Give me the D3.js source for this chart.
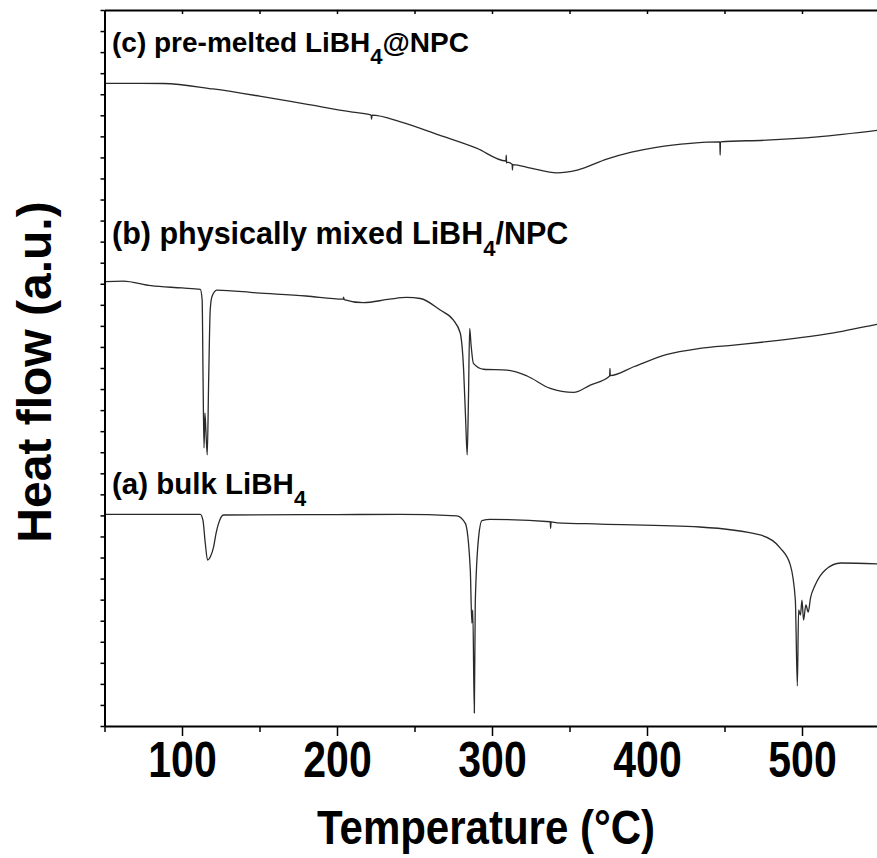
<!DOCTYPE html>
<html>
<head>
<meta charset="utf-8">
<script src="https://cdn.jsdelivr.net/npm/d3@7"></script>
<style>
  body { margin: 0; background: #fff; }
  svg { display: block; }
</style>
</head>
<body>
<div id="chart"></div>
<script>
// temperature axis ticks
var majorTicks = [100, 200, 300, 400, 500]
var minorTicks = [50, 150, 250, 350, 450, 550]

// (a) bulk LiBH4
var tempA = [50, 111.8, 113.5, 115, 116.5, 118.5, 120.4, 122, 123.6, 126.8, 200, 240.8, 277.2, 282.8, 286, 287, 287.6, 288.6, 289.2, 291.4, 293.5, 298.9, 337.6, 337.8, 338.1, 342, 369.9, 434, 473, 486, 492.5, 495.7, 497, 497.8, 499, 500, 501, 502.5, 504, 505.5, 508.5, 515, 525, 550]
var flowA = [10.05, 10.05, 9.78, 8.69, 7.88, 8.07, 8.51, 9.16, 9.62, 10.02, 10.04, 10.05, 9.98, 9.62, 7.41, 4.89, 5.51, 0.62, 5.83, 8.99, 9.75, 9.81, 9.70, 9.39, 9.69, 9.65, 9.59, 9.45, 9.07, 8.45, 7.64, 5.98, 1.90, 5.51, 5.27, 5.98, 5.03, 5.75, 5.41, 6.08, 6.69, 7.41, 7.74, 7.69]

// (b) physically mixed LiBH4/NPC
var tempB = [50, 62, 80, 100, 111.8, 113, 113.6, 114.2, 114.8, 115.4, 116.3, 117.2, 118.2, 119.3, 122.5, 148, 180, 204, 204.3, 204.6, 217, 234, 245, 253.7, 266.6, 275, 279.5, 281.7, 283, 284, 284.8, 285.6, 286.5, 288, 294.6, 309.7, 322.6, 337.6, 352.6, 363.4, 375.9, 376.1, 376.3, 391.4, 413, 434, 456, 477.4, 498.9, 520.4, 546, 550]
var flowB = [21.10, 21.13, 20.91, 20.80, 20.73, 20.23, 16.43, 13.20, 14.86, 14.05, 12.87, 16.43, 19.75, 20.38, 20.70, 20.57, 20.42, 20.27, 20.37, 20.25, 20.10, 20.27, 20.35, 20.30, 19.75, 19.28, 18.66, 16.90, 14.53, 12.87, 15.48, 18.88, 18.09, 17.22, 16.94, 16.90, 16.62, 16.03, 15.84, 16.19, 16.62, 16.98, 16.64, 17.06, 17.65, 17.93, 18.09, 18.25, 18.44, 18.67, 19.04, 19.09]

// (c) pre-melted LiBH4@NPC
var tempC = [50, 88, 120, 150, 180, 210, 222, 222.3, 222.6, 241, 266, 290, 309, 309.2, 309.4, 309.6, 313, 313.2, 313.4, 325, 342, 355, 374, 390, 406, 428, 447, 447.2, 447.4, 477, 510, 550]
var flowC = [30.52, 30.51, 30.25, 29.91, 29.53, 29.15, 29.01, 28.82, 29.01, 28.69, 28.06, 27.44, 26.83, 27.11, 26.73, 26.78, 26.68, 26.40, 26.66, 26.49, 26.27, 26.40, 26.92, 27.25, 27.48, 27.67, 27.74, 27.11, 27.74, 27.82, 27.98, 28.30]

var seriesLabels = [
  {name: "(a) bulk LiBH", sub: "4", tail: ""},
  {name: "(b) physically mixed LiBH", sub: "4", tail: "/NPC"},
  {name: "(c) pre-melted LiBH", sub: "4", tail: "@NPC"}
]

var width = 877, height = 858
var plotLeft = 104.5, plotRight = 879.5, plotTop = 10, plotBottom = 726

var svg = d3.select("#chart").append("svg")
  .attr("width", width)
  .attr("height", height)

var x = d3.scaleLinear().domain([50, 550]).range([plotLeft, plotRight])
var y = d3.scaleLinear().domain([0, 34]).range([plotBottom, plotTop])

svg.append("clipPath").attr("id", "plotclip")
  .append("rect")
  .attr("x", plotLeft).attr("y", plotTop)
  .attr("width", plotRight - plotLeft).attr("height", plotBottom - plotTop)

var line = d3.line()
  .x(d => x(d[0]))
  .y(d => y(d[1]))
  .curve(d3.curveMonotoneX)

var curves = [d3.zip(tempA, flowA), d3.zip(tempB, flowB), d3.zip(tempC, flowC)]
svg.append("g").attr("clip-path", "url(#plotclip)")
  .selectAll("path")
  .data(curves)
  .join("path")
  .attr("d", line)
  .attr("fill", "none")
  .attr("stroke", "#2a2a2a")
  .attr("stroke-width", 1.3)

// axes
var font = "'Liberation Sans', Arial, sans-serif"

var xAxis = svg.append("g")
  .attr("transform", "translate(0," + plotBottom + ")")
  .call(d3.axisBottom(x).tickValues(majorTicks).tickSize(10).tickPadding(6).tickSizeOuter(0).tickFormat(d3.format("d")))
xAxis.selectAll("text")
  .attr("font-family", font)
  .attr("font-weight", "bold")
  .attr("font-size", 50)
  .attr("fill", "#000")
  .attr("transform", "scale(0.82,1)")
  .attr("x", 0)

svg.append("g")
  .attr("transform", "translate(0," + plotBottom + ")")
  .call(d3.axisBottom(x).tickValues(minorTicks).tickSize(6).tickSizeOuter(0).tickFormat(""))
  .call(g => g.select(".domain").remove())

svg.append("g")
  .attr("transform", "translate(0," + plotTop + ")")
  .call(d3.axisTop(x).tickValues(minorTicks.concat(majorTicks)).tickSize(-4).tickSizeOuter(0).tickFormat(""))

svg.append("g")
  .attr("transform", "translate(" + plotLeft + ",0)")
  .call(d3.axisLeft(y).ticks(34).tickSize(4).tickSizeOuter(0).tickFormat(""))

svg.selectAll(".domain").attr("stroke", "#000").attr("stroke-width", 2)
svg.selectAll(".tick line").attr("stroke", "#000").attr("stroke-width", 1.5)

// axis titles
svg.append("text")
  .attr("x", 486)
  .attr("y", 844)
  .attr("text-anchor", "middle")
  .attr("font-family", font)
  .attr("font-weight", "bold")
  .attr("font-size", 48)
  .attr("textLength", 338)
  .attr("lengthAdjust", "spacingAndGlyphs")
  .text("Temperature (°C)")

svg.append("text")
  .attr("transform", "translate(51,372) rotate(-90)")
  .attr("text-anchor", "middle")
  .attr("font-family", font)
  .attr("font-weight", "bold")
  .attr("font-size", 48)
  .text("Heat flow (a.u.)")

// curve labels
var labelBase = [494, 244, 52]
var labelSize = [29.5, 30.5, 28]
seriesLabels.forEach(function(s, i) {
  var t = svg.append("text")
    .attr("x", 112)
    .attr("y", labelBase[i])
    .attr("font-family", font)
    .attr("font-weight", "bold")
    .attr("font-size", labelSize[i])
    .attr("fill", "#000")
  t.append("tspan").text(s.name)
  t.append("tspan").attr("dy", 12).attr("font-size", 22).text(s.sub)
  if (s.tail) t.append("tspan").attr("dy", -12).text(s.tail)
})
</script>
</body>
</html>
